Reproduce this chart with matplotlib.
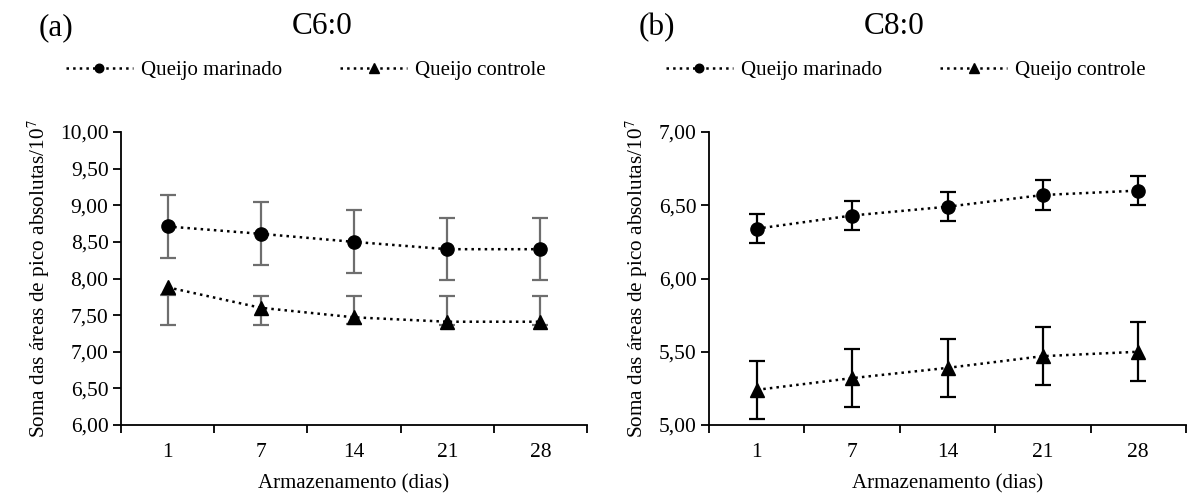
import numpy as np
import matplotlib
matplotlib.use("Agg")
import matplotlib.pyplot as plt
from matplotlib.ticker import FixedLocator

plt.rcParams['font.family'] = ['Liberation Serif', 'DejaVu Serif']
plt.rcParams['mathtext.fontset'] = 'stix'

dias = ['1', '7', '14', '21', '28']

# C6:0
c6_marinado = [8.71, 8.61, 8.50, 8.40, 8.40]
c6_marinado_err = [0.43, 0.43, 0.43, 0.42, 0.42]
c6_controle = [7.88, 7.60, 7.47, 7.41, 7.41]
c6_controle_low = [7.36, 7.36, 7.38, 7.36, 7.36]
c6_controle_high = [7.78, 7.76, 7.76, 7.76, 7.76]

# C8:0
c8_marinado = [6.34, 6.43, 6.49, 6.57, 6.60]
c8_marinado_err = [0.10, 0.10, 0.10, 0.10, 0.10]
c8_controle = [5.24, 5.32, 5.39, 5.47, 5.50]
c8_controle_err = [0.20, 0.20, 0.20, 0.20, 0.20]

W, H = 1192, 497
fig = plt.figure(figsize=(W / 100, H / 100), dpi=100)


def ax_box(x0, x1, y_top, y_bot):
    return [x0 / W, 1 - y_bot / H, (x1 - x0) / W, (y_bot - y_top) / H]


def style_axis(ax, ylim, yticks):
    ax.set_xlim(0.5, 5.5)
    ax.set_ylim(*ylim)
    ax.spines['top'].set_visible(False)
    ax.spines['right'].set_visible(False)
    for s in ('left', 'bottom'):
        ax.spines[s].set_linewidth(1.3)
    ax.set_xticks(np.arange(1, 6))
    ax.set_xticklabels(dias, fontsize=15.5)
    ax.xaxis.set_minor_locator(FixedLocator(np.arange(0.5, 6, 1)))
    ax.tick_params(axis='x', which='major', length=0, pad=13)
    ax.tick_params(axis='x', which='minor', length=6, width=1.3, direction='out')
    ax.set_yticks(yticks)
    ax.set_yticklabels([f'{v:.2f}'.replace('.', ',') for v in yticks], fontsize=15.5)
    ax.tick_params(axis='y', length=6, width=1.3, direction='out', pad=3)
    ax.set_xlabel('Armazenamento (dias)', fontsize=15, labelpad=9)
    ax.set_ylabel(r'Soma das áreas de pico absolutas/10$^{7}$', fontsize=15.3, labelpad=6)


x = np.arange(1, 6)
err_kw = dict(fmt='none', elinewidth=1.6, capsize=6, capthick=1.6, zorder=2)
line_kw = dict(color='black', ls=':', lw=1.8, zorder=3)

# painel (a)
ax1 = fig.add_axes(ax_box(121, 587, 132, 425))
style_axis(ax1, (6.0, 10.0), np.arange(6.0, 10.01, 0.5))
ax1.errorbar(x, c6_marinado, yerr=c6_marinado_err, ecolor='#6e6e6e', **err_kw)
lo = np.array(c6_controle_low)
hi = np.array(c6_controle_high)
ax1.errorbar(x, (lo + hi) / 2, yerr=(hi - lo) / 2, ecolor='#6e6e6e', **err_kw)
ax1.plot(x, c6_marinado, marker='o', ms=9.5, label='Queijo marinado', **line_kw)
ax1.plot(x, c6_controle, marker='^', ms=10, label='Queijo controle', **line_kw)

# painel (b)
ax2 = fig.add_axes(ax_box(709, 1186, 132, 425))
style_axis(ax2, (5.0, 7.0), np.arange(5.0, 7.01, 0.5))
ax2.errorbar(x, c8_marinado, yerr=c8_marinado_err, ecolor='black', **err_kw)
ax2.errorbar(x, c8_controle, yerr=c8_controle_err, ecolor='black', **err_kw)
ax2.plot(x, c8_marinado, marker='o', ms=9.5, label='Queijo marinado', **line_kw)
ax2.plot(x, c8_controle, marker='^', ms=10, label='Queijo controle', **line_kw)

for ax, cx in ((ax1, 306), (ax2, 906)):
    ax.legend(loc='center', bbox_to_anchor=(cx / W, 1 - 70 / H),
              bbox_transform=fig.transFigure, ncol=2, frameon=False,
              fontsize=15, markerscale=0.65, handlelength=3.2,
              handletextpad=0.4, columnspacing=2.8)

fig.text(56 / W, 1 - 28 / H, '(a)', fontsize=22.5, ha='center', va='center')
fig.text(322 / W, 1 - 26 / H, 'C6:0', fontsize=22.5, ha='center', va='center')
fig.text(657 / W, 1 - 28 / H, '(b)', fontsize=22.5, ha='center', va='center')
fig.text(894 / W, 1 - 26 / H, 'C8:0', fontsize=22.5, ha='center', va='center')

fig.savefig('out.png', dpi=100)
